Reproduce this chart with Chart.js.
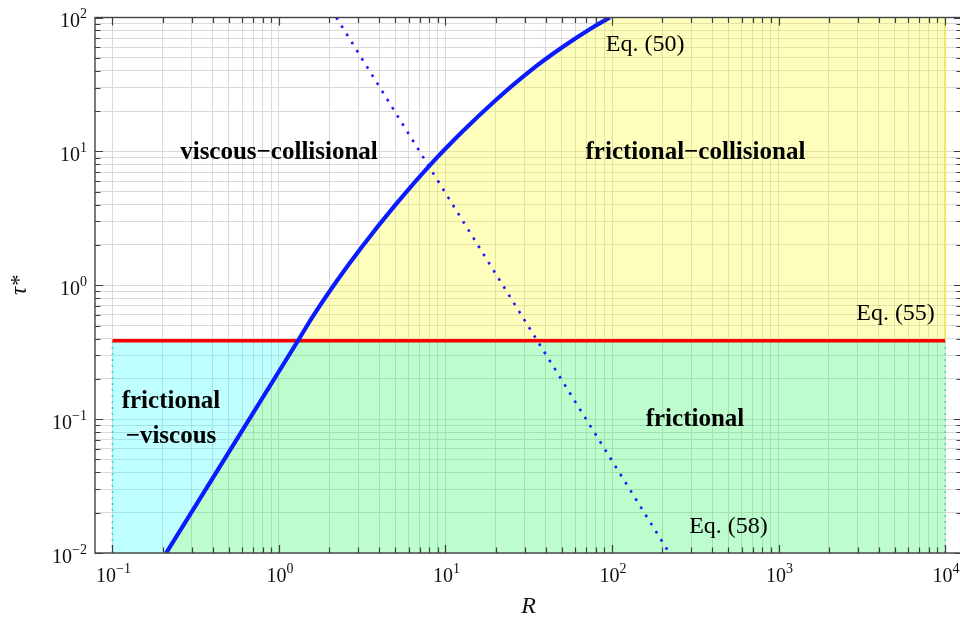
<!DOCTYPE html>
<html>
<head>
<meta charset="utf-8">
<title>Flow regimes</title>
<script src="https://cdn.jsdelivr.net/npm/chart.js@4"></script>
<style>
    html, body { margin: 0; padding: 0; background: #fff; overflow: hidden; }
    #wrap { position: relative; width: 962px; height: 624px; }
</style>
</head>
<body>
<div id="wrap"><canvas id="regimeChart"></canvas></div>
<script>
// ====================================
// DATA
// ====================================

// axis ticks (decades) and their exponent labels
const xMajorTicks = [0.1, 1, 10, 100, 1000, 10000];
const xMajorExps  = ['\u22121', '0', '1', '2', '3', '4'];
const yMajorTicks = [0.01, 0.1, 1, 10, 100];
const yMajorExps  = ['\u22122', '\u22121', '0', '1', '2'];

// Eq. (50): boundary viscous / frictional
const eq50R   = [0.21, 1.30, 1.58, 2.24, 3.16, 5.0, 7.9, 12.6, 20, 31.6, 50, 79, 97];
const eq50Tau = [0.01, 0.385, 0.573, 1.09, 1.95, 3.98, 7.67, 14.0, 24.1, 39.1, 59.6, 86.3, 100];

// Eq. (55): horizontal threshold
const eq55R   = [0.1, 10000];
const eq55Tau = [0.385, 0.385];

// Eq. (58): dotted line
const eq58R   = [2.21, 35.6, 221];
const eq58Tau = [100, 0.385, 0.01];

// extent of the shaded regions
const regionR   = [0.1, 10000];
const regionTau = [0.01, 100];

// region / equation labels
const noteTexts = ['viscous\u2212collisional', 'frictional\u2212collisional', 'frictional', '\u2212viscous',
                   'frictional', 'Eq. (50)', 'Eq. (55)', 'Eq. (58)'];
const noteR     = [1, 317, 0.2245, 0.2245, 315, 158, 5045, 501];
const noteTau   = [9.75, 9.75, 0.135, 0.074, 0.099, 62.4, 0.613, 0.0158];
const noteBold  = [true, true, true, true, true, false, false, false];

// ====================================
// BUILD
// ====================================

const serif = "'Liberation Serif', 'Times New Roman', 'DejaVu Serif', serif";

function pts(xs, ys) {
    return xs.map((x, i) => ({ x: x, y: ys[i] }));
}

function minorTicks(majors, lo, hi) {
    const out = [];
    majors.forEach(m => {
        for (let k = 1; k <= 9; k++) {
            const v = parseFloat((m * k).toPrecision(6));
            if (v >= lo && v <= hi) out.push(v);
        }
    });
    return out;
}

// split Eq. (50) where it meets Eq. (55)
const cross = eq50Tau.indexOf(eq55Tau[0]);
const curve = pts(eq50R, eq50Tau);
const lowPart = curve.slice(0, cross + 1);
const highPart = curve.slice(cross);
const tauLine = eq55Tau[0];

const cyanShape = [{ x: regionR[0], y: regionTau[0] }]
    .concat(lowPart)
    .concat([{ x: regionR[0], y: tauLine }]);
const greenShape = lowPart
    .concat([{ x: regionR[1], y: tauLine }, { x: regionR[1], y: regionTau[0] }]);
const yellowShape = highPart
    .concat([{ x: regionR[1], y: regionTau[1] }, { x: regionR[1], y: tauLine }]);

const xMin = Math.pow(10, -1.105);
const xMax = Math.pow(10, 4.102);
const xTicks = minorTicks(xMajorTicks, xMin, xMax);
const yTicks = minorTicks(yMajorTicks, 0.01, 100);

// "10" with a raised exponent
function drawPower(ctx, exp, left, baseline) {
    ctx.font = '20px ' + serif;
    ctx.fillText('10', left, baseline);
    const w = ctx.measureText('10').width;
    ctx.font = '14px ' + serif;
    ctx.fillText(exp, left + w, baseline - 9);
}

function powerWidth(ctx, exp) {
    ctx.font = '20px ' + serif;
    const w = ctx.measureText('10').width;
    ctx.font = '14px ' + serif;
    return w + ctx.measureText(exp).width;
}

// inward ticks, frame, tick labels and text labels
const framePlugin = {
    id: 'framePlugin',
    afterDatasetsDraw(chart) {
        const { ctx, chartArea: a, scales: { x, y } } = chart;
        ctx.save();

        ctx.strokeStyle = '#3c3c3c';
        ctx.lineWidth = 1.2;
        ctx.beginPath();
        x.ticks.forEach(t => {
            const px = Math.round(x.getPixelForValue(t.value)) + 0.5;
            const len = xMajorTicks.includes(t.value) ? 8 : 5.5;
            ctx.moveTo(px, a.bottom); ctx.lineTo(px, a.bottom - len);
            ctx.moveTo(px, a.top); ctx.lineTo(px, a.top + len);
        });
        y.ticks.forEach(t => {
            const py = Math.round(y.getPixelForValue(t.value)) + 0.5;
            const len = yMajorTicks.includes(t.value) ? 8 : 5.5;
            ctx.moveTo(a.left, py); ctx.lineTo(a.left + len, py);
            ctx.moveTo(a.right, py); ctx.lineTo(a.right - len, py);
        });
        ctx.stroke();

        ctx.lineWidth = 1.4;
        ctx.strokeStyle = '#444';
        ctx.strokeRect(a.left, a.top, a.right - a.left, a.bottom - a.top);

        // tick labels
        ctx.fillStyle = '#111';
        ctx.textAlign = 'left';
        ctx.textBaseline = 'alphabetic';
        xMajorTicks.forEach((v, i) => {
            const w = powerWidth(ctx, xMajorExps[i]);
            drawPower(ctx, xMajorExps[i], x.getPixelForValue(v) - w / 2 + 1, a.bottom + 29);
        });
        yMajorTicks.forEach((v, i) => {
            const w = powerWidth(ctx, yMajorExps[i]);
            drawPower(ctx, yMajorExps[i], a.left - 8 - w, y.getPixelForValue(v) + 9.5);
        });

        // region and equation labels
        ctx.fillStyle = '#000';
        ctx.textAlign = 'center';
        ctx.textBaseline = 'middle';
        noteTexts.forEach((txt, i) => {
            ctx.font = noteBold[i] ? 'bold 25px ' + serif : '24px ' + serif;
            ctx.fillText(txt, x.getPixelForValue(noteR[i]), y.getPixelForValue(noteTau[i]));
        });
        ctx.restore();
    }
};

new Chart(document.getElementById('regimeChart'), {
    type: 'line',
    data: {
        datasets: [
            {
                label: 'Eq. (50)',
                data: curve,
                borderColor: '#0a1cff',
                borderWidth: 4.2,
                cubicInterpolationMode: 'monotone',
                pointRadius: 0,
                fill: false
            },
            {
                label: 'Eq. (58)',
                data: pts(eq58R, eq58Tau),
                borderColor: '#1a1aff',
                borderWidth: 2.6,
                borderDash: [2.6, 7],
                pointRadius: 0,
                fill: false
            },
            {
                label: 'Eq. (55)',
                data: pts(eq55R, eq55Tau),
                borderColor: '#ff0000',
                borderWidth: 3.4,
                pointRadius: 0,
                fill: false
            },
            {
                label: 'cyan edge',
                data: [{ x: regionR[0], y: regionTau[0] }, { x: regionR[0], y: tauLine }],
                borderColor: 'rgba(0, 225, 230, 0.9)',
                borderWidth: 1.6,
                borderDash: [2, 4],
                pointRadius: 0
            },
            {
                label: 'green edge',
                data: [{ x: regionR[1], y: regionTau[0] }, { x: regionR[1], y: tauLine }],
                borderColor: 'rgba(60, 225, 150, 0.9)',
                borderWidth: 1.6,
                borderDash: [2, 4],
                pointRadius: 0
            },
            {
                label: 'yellow edge',
                data: [{ x: regionR[1], y: tauLine }, { x: regionR[1], y: regionTau[1] }],
                borderColor: 'rgba(235, 235, 90, 0.9)',
                borderWidth: 2,
                pointRadius: 0
            },
            {
                label: 'frictional-viscous',
                data: cyanShape,
                backgroundColor: 'rgba(0, 255, 255, 0.25)',
                borderWidth: 0,
                pointRadius: 0,
                fill: 'shape'
            },
            {
                label: 'frictional',
                data: greenShape,
                backgroundColor: 'rgba(0, 245, 60, 0.26)',
                borderWidth: 0,
                pointRadius: 0,
                fill: 'shape'
            },
            {
                label: 'frictional-collisional',
                data: yellowShape,
                backgroundColor: 'rgba(255, 255, 0, 0.26)',
                borderWidth: 0,
                pointRadius: 0,
                fill: 'shape'
            }
        ]
    },
    options: {
        responsive: true,
        maintainAspectRatio: false,
        animation: false,
        layout: { padding: { top: 17.5, right: 0, bottom: 0, left: 0 } },
        plugins: {
            legend: { display: false },
            tooltip: { enabled: false }
        },
        scales: {
            x: {
                type: 'logarithmic',
                min: xMin,
                max: xMax,
                afterBuildTicks: scale => { scale.ticks = xTicks.map(v => ({ value: v })); },
                afterFit: scale => {
                    scale.height = 71;
                    scale.paddingLeft = 0;
                    scale.paddingRight = 0;
                },
                grid: { color: '#dadada', lineWidth: 1, drawTicks: false },
                border: { display: false },
                ticks: { display: false, autoSkip: false },
                title: {
                    display: true,
                    text: 'R',
                    color: '#111',
                    font: { family: serif, size: 24, style: 'italic' },
                    padding: { top: 0, bottom: 3 }
                }
            },
            y: {
                type: 'logarithmic',
                min: 0.01,
                max: 100,
                afterBuildTicks: scale => { scale.ticks = yTicks.map(v => ({ value: v })); },
                afterFit: scale => {
                    scale.width = 95;
                    scale.paddingTop = 0;
                    scale.paddingBottom = 0;
                },
                grid: { color: '#dadada', lineWidth: 1, drawTicks: false },
                border: { display: false },
                ticks: { display: false, autoSkip: false },
                title: {
                    display: true,
                    text: 'τ*',
                    color: '#111',
                    font: { family: serif, size: 23, style: 'italic' },
                    padding: { top: 6, bottom: 0 }
                }
            }
        }
    },
    plugins: [framePlugin]
});
</script>
</body>
</html>
